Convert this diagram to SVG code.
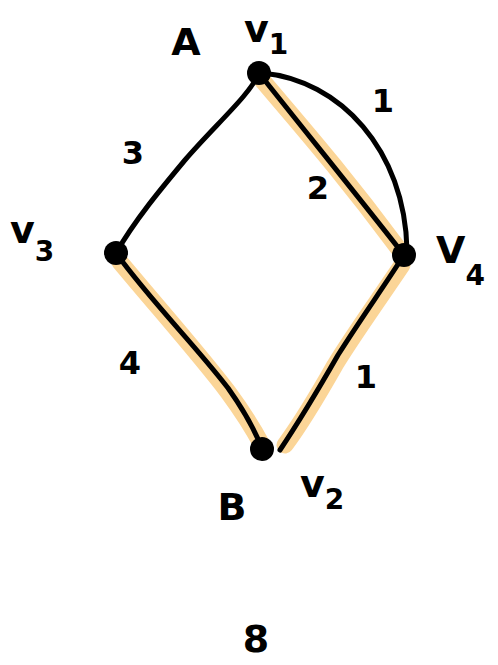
<svg xmlns="http://www.w3.org/2000/svg" width="498" height="665" viewBox="0 0 498 665">
<style>
.hl{fill:none;stroke:#fbd597;stroke-width:17;stroke-linecap:round;stroke-linejoin:round}
.e{fill:none;stroke:#000;stroke-width:5;stroke-linecap:round;stroke-linejoin:round}
.n{fill:#000}
.t{font-family:"DejaVu Sans",sans-serif;font-weight:bold;font-size:38px;fill:#000}
.s{font-family:"DejaVu Sans",sans-serif;font-weight:bold;font-size:28px;fill:#000}
.w{font-family:"DejaVu Sans",sans-serif;font-weight:bold;font-size:32px;fill:#000}
</style>
<rect width="498" height="665" fill="#fff"/>
<g id="highlight">
<path class="hl" d="M262,80 C300,125 340,170 398,248"/>
<path class="hl" d="M402,265 C375,305 350,340 335,365 C318,395 302,422 285,445"/>
<path class="hl" d="M120,262 C160,310 200,355 228,392 C245,415 255,432 262,445"/>
</g>
<g id="connectors">
<path class="e" d="M259,73 C250,95 215,125 185,160 C160,190 135,220 116,253"/>
<path class="e" d="M259,73 C300,125 345,180 404,255"/>
<path class="e" d="M262,73 C340,80 405,150 407,250"/>
<path class="e" d="M404,255 C385,285 360,320 338,355 C318,390 300,420 280,450"/>
<path class="e" d="M116,253 C150,300 195,345 228,388 C245,412 255,430 262,449"/>
</g>
<g id="v1"><circle class="n" cx="259" cy="73" r="12"/><text class="t" x="244" y="42">v<tspan class="s" dy="12">1</tspan></text><text class="t" x="186" y="55" text-anchor="middle">A</text></g>
<g id="v3"><circle class="n" cx="116" cy="253" r="12"/><text class="t" x="10" y="243">v<tspan class="s" dy="18">3</tspan></text></g>
<g id="v4"><circle class="n" cx="404" cy="255" r="12"/><text class="t" x="436" y="263">V<tspan class="s" dy="22">4</tspan></text></g>
<g id="v2"><circle class="n" cx="262" cy="449" r="12"/><text class="t" x="300" y="497">v<tspan class="s" dy="12">2</tspan></text><text class="t" x="232" y="520" text-anchor="middle">B</text></g>
<g id="labels">
<text class="w" x="383" y="112" text-anchor="middle">1</text>
<text class="w" x="318" y="199" text-anchor="middle">2</text>
<text class="w" x="133" y="164" text-anchor="middle">3</text>
<text class="w" x="130" y="374" text-anchor="middle">4</text>
<text class="w" x="366" y="388" text-anchor="middle">1</text>
<text class="t" x="256" y="652" text-anchor="middle" font-size="44">8</text>
</g>
</svg>
